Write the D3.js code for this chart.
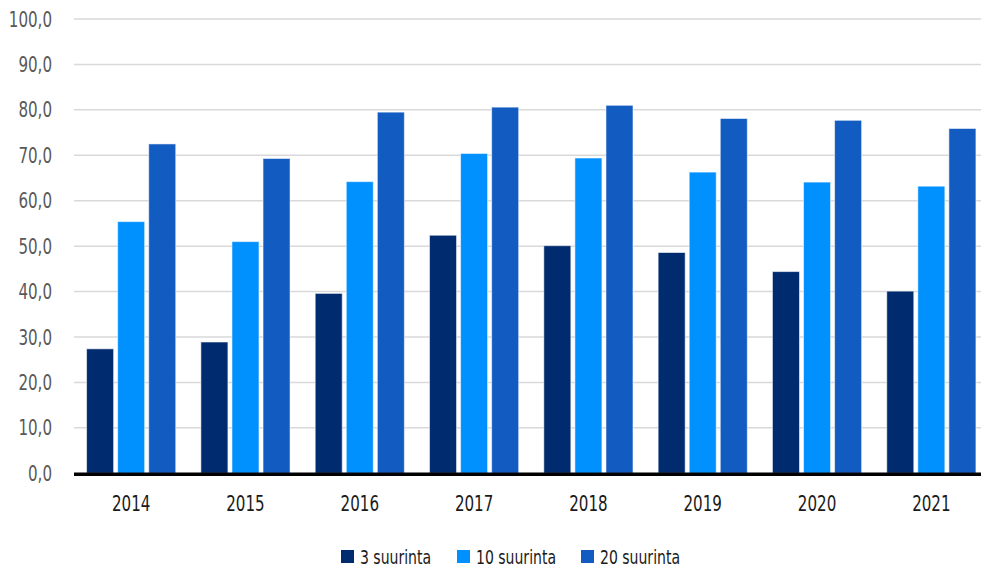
<!DOCTYPE html>
<html>
<head>
<meta charset="utf-8">
<script src="https://cdn.jsdelivr.net/npm/d3@7"></script>
<style>
  html, body { margin: 0; padding: 0; background: #fff; }
  svg { display: block; }
  text { font-family: "DejaVu Sans Condensed", "DejaVu Sans", sans-serif; font-stretch: condensed; }
</style>
</head>
<body>
<svg id="chart" width="981" height="567"></svg>
<script>
// Years on the x axis
const years = ["2014", "2015", "2016", "2017", "2018", "2019", "2020", "2021"];
// Series names
const seriesNames = ["3 suurinta", "10 suurinta", "20 suurinta"];
// Values per series, one per year
const top3  = [27.4, 28.9, 39.6, 52.4, 50.1, 48.6, 44.4, 40.1];
const top10 = [55.4, 51.0, 64.2, 70.4, 69.4, 66.3, 64.1, 63.2];
const top20 = [72.5, 69.3, 79.5, 80.6, 81.0, 78.1, 77.7, 75.9];
// Y axis ticks
const yTicks = [0, 10, 20, 30, 40, 50, 60, 70, 80, 90, 100];

const seriesValues = [top3, top10, top20];
const colors = ["#002b6e", "#0091ff", "#115bc1"];

const svg = d3.select("#chart");
const margin = { left: 74, top: 19, bottom: 94 };
const plotRight = 988.5;
const height = 567;
const narrow = 0.8; // horizontal squeeze for a narrow label face

const x = d3.scaleBand().domain(years).range([margin.left, plotRight]).paddingInner(0.22).paddingOuter(0.11);
const x1 = d3.scaleBand().domain(seriesNames).range([0, x.bandwidth()]).paddingInner(0.13).paddingOuter(0);
const y = d3.scaleLinear().domain([0, 100]).range([height - margin.bottom + 0.3, margin.top]);

// Gridlines
svg.append("g")
  .selectAll("line")
  .data(yTicks.filter(d => d > 0))
  .join("line")
  .attr("x1", margin.left).attr("x2", 981)
  .attr("y1", d => y(d)).attr("y2", d => y(d))
  .attr("stroke", "#d9d9d9").attr("stroke-width", 1.5);

// Y axis labels
const fmt = d => d.toFixed(1).replace(".", ",");
svg.append("g")
  .selectAll("text")
  .data(yTicks)
  .join("text")
  .attr("transform", d => `translate(52,${y(d) + 7.5}) scale(${narrow},1)`)
  .attr("text-anchor", "end")
  .attr("font-size", 21)
  .attr("fill", "#595959")
  .text(fmt);

// Bars
const groups = svg.append("g")
  .selectAll("g")
  .data(years)
  .join("g")
  .attr("transform", d => `translate(${x(d)},0)`);

groups.selectAll("rect")
  .data((yr, i) => seriesNames.map((s, k) => ({ s, k, v: seriesValues[k][i] })))
  .join("rect")
  .attr("x", d => x1(d.s))
  .attr("width", x1.bandwidth())
  .attr("y", d => y(d.v))
  .attr("height", d => y(0) - y(d.v))
  .attr("fill", (d) => colors[d.k])
  .attr("stroke", "rgba(255,255,255,0.55)")
  .attr("stroke-width", 1);

// X axis baseline
svg.append("line")
  .attr("x1", margin.left).attr("x2", 981)
  .attr("y1", y(0) + 1).attr("y2", y(0) + 1)
  .attr("stroke", "#000").attr("stroke-width", 3.5);

// X axis labels
svg.append("g")
  .selectAll("text")
  .data(years)
  .join("text")
  .attr("transform", d => `translate(${x(d) + x.bandwidth() / 2},511) scale(${narrow},1)`)
  .attr("text-anchor", "middle")
  .attr("font-size", 21)
  .attr("fill", "#1a1a1a")
  .text(d => d);

// Legend
const legendX = [341, 457, 581];
const legend = svg.append("g")
  .selectAll("g")
  .data(seriesNames)
  .join("g")
  .attr("transform", (d, i) => `translate(${legendX[i]},550)`);
legend.append("rect")
  .attr("width", 13).attr("height", 13)
  .attr("fill", (d, i) => colors[i]);
legend.append("text")
  .attr("transform", `translate(19,13.5) scale(${narrow},1)`)
  .attr("font-size", 19.5)
  .attr("fill", "#1a1a1a")
  .text(d => d);
</script>
</body>
</html>
